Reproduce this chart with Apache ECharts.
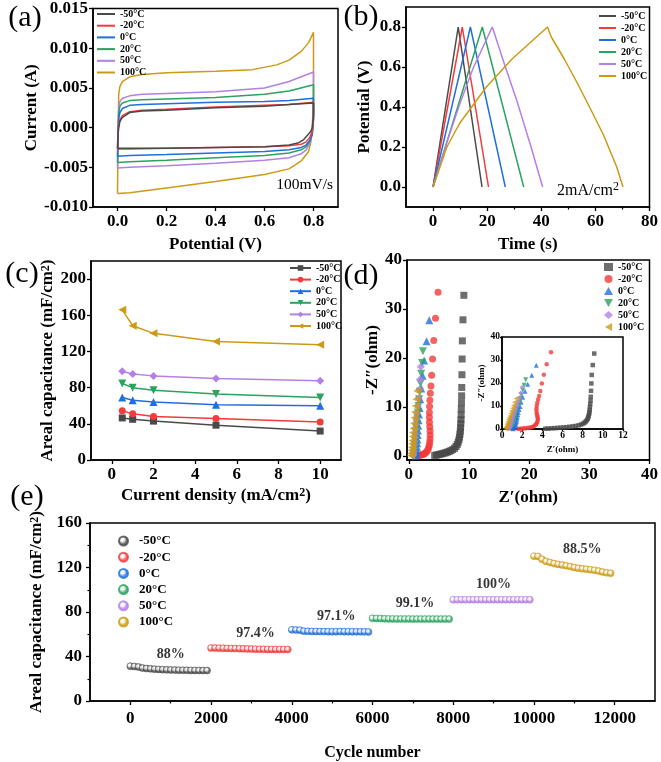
<!DOCTYPE html>
<html><head><meta charset="utf-8">
<script src="https://cdn.jsdelivr.net/npm/echarts@6/dist/echarts.min.js"></script>
<style>html,body{margin:0;padding:0;background:#fff}#c{width:661px;height:762px}</style>
</head><body><div id="c"></div>
<script>
// ---------- shared ----------
const temps = ['-50°C', '-20°C', '0°C', '20°C', '50°C', '100°C'];
const colors = ['#4a4a4a', '#f23b3b', '#1f6fe0', '#2aa35e', '#b47fe6', '#cc9a14'];

// ---------- (a) CV curves at 100 mV/s: [potential V, current A] ----------
const cvM50 = [[0,-0.0026],[0.002,-0.001],[0.005,0.0],[0.01,0.0008],[0.02,0.0013],[0.05,0.0019],[0.1,0.0021],[0.2,0.0022],[0.4,0.0025],[0.6,0.0027],[0.7,0.0029],[0.8,0.0031],[0.8,0.0015],[0.795,0.0],[0.79,-0.0004],[0.78,-0.0008],[0.76,-0.0015],[0.74,-0.0019],[0.7,-0.0022],[0.6,-0.0024],[0.4,-0.0025],[0.2,-0.0026],[0.05,-0.0026],[0,-0.0026]];
const cvM20 = [[0,-0.0027],[0.002,-0.0005],[0.005,0.0004],[0.01,0.0010],[0.02,0.0015],[0.05,0.0020],[0.1,0.0022],[0.2,0.0023],[0.4,0.0026],[0.6,0.0028],[0.7,0.0029],[0.8,0.0032],[0.8,0.001],[0.795,-0.0005],[0.785,-0.0012],[0.77,-0.0018],[0.75,-0.0021],[0.7,-0.0023],[0.6,-0.0024],[0.4,-0.0025],[0.2,-0.0026],[0.05,-0.0027],[0,-0.0027]];
const cv0 = [[0,-0.0036],[0.002,-0.001],[0.005,0.0012],[0.01,0.0019],[0.02,0.0024],[0.05,0.0028],[0.1,0.0029],[0.2,0.0030],[0.4,0.0032],[0.6,0.0033],[0.7,0.0034],[0.8,0.0037],[0.8,0.001],[0.795,-0.0008],[0.785,-0.0016],[0.77,-0.0022],[0.75,-0.0025],[0.7,-0.0028],[0.6,-0.0030],[0.4,-0.0032],[0.2,-0.0034],[0.05,-0.0035],[0,-0.0036]];
const cv20 = [[0,-0.0044],[0.002,-0.001],[0.005,0.0018],[0.01,0.0027],[0.02,0.0031],[0.05,0.0034],[0.1,0.0035],[0.2,0.0036],[0.4,0.0038],[0.6,0.0042],[0.7,0.0046],[0.8,0.0054],[0.8,0.0015],[0.795,-0.0008],[0.785,-0.0017],[0.77,-0.0024],[0.75,-0.0028],[0.7,-0.0032],[0.6,-0.0035],[0.4,-0.0038],[0.2,-0.0041],[0.05,-0.0043],[0,-0.0044]];
const cv50 = [[0,-0.0051],[0.002,-0.001],[0.005,0.0025],[0.01,0.0033],[0.02,0.0037],[0.05,0.0040],[0.1,0.0042],[0.2,0.0043],[0.4,0.0045],[0.6,0.0050],[0.7,0.0058],[0.8,0.0070],[0.8,0.002],[0.795,-0.0008],[0.785,-0.0020],[0.77,-0.0028],[0.75,-0.0033],[0.7,-0.0038],[0.6,-0.0041],[0.4,-0.0045],[0.2,-0.0048],[0.05,-0.0050],[0,-0.0051]];
const cv100 = [[0,-0.0083],[0.002,-0.002],[0.005,0.0042],[0.01,0.0052],[0.02,0.0058],[0.05,0.0064],[0.1,0.0067],[0.2,0.0069],[0.4,0.0071],[0.55,0.0073],[0.65,0.0079],[0.7,0.0085],[0.75,0.0096],[0.78,0.0107],[0.8,0.0120],[0.8,0.004],[0.795,0.0],[0.79,-0.0017],[0.78,-0.0030],[0.75,-0.0042],[0.7,-0.0052],[0.6,-0.0059],[0.4,-0.0068],[0.2,-0.0076],[0.05,-0.0082],[0,-0.0083]];
const cvData = [cvM50, cvM20, cv0, cv20, cv50, cv100];

// ---------- (b) GCD at 2 mA/cm2: [time s, potential V] ----------
const gcdM50 = [[0,0],[9.3,0.8],[18.1,0]];
const gcdM20 = [[0,0],[10.8,0.8],[20.5,0]];
const gcd0 = [[0,0],[13.8,0.8],[26.7,0]];
const gcd20 = [[0,0],[18.2,0.8],[33.5,0]];
const gcd50 = [[0,0],[5,0.22],[10,0.42],[15,0.6],[21.9,0.8],[26,0.63],[31,0.43],[36,0.21],[40.5,0]];
const gcd100 = [[0,0],[5.1,0.2],[9.9,0.32],[19.7,0.5],[29.2,0.64],[34.1,0.7],[42.3,0.8],[43.7,0.75],[48.5,0.64],[53.3,0.52],[58.2,0.39],[63,0.26],[67.9,0.1],[70.2,0]];
const gcdData = [gcdM50, gcdM20, gcd0, gcd20, gcd50, gcd100];

// ---------- (c) areal capacitance vs current density ----------
const currentDensity = [0.5, 1, 2, 5, 10];
const capM50 = [46.5, 45, 43, 38.5, 32];
const capM20 = [54.5, 51, 48, 46, 42];
const cap0 = [69, 66, 64, 61, 60];
const cap20 = [84.5, 80, 77, 73, 69];
const cap50 = [98, 95, 93, 90, 87.5];
const cap100 = [166, 148.5, 140, 131, 127.5];
const capData = [capM50, capM20, cap0, cap20, cap50, cap100];

// ---------- (d) Nyquist: [Z' ohm, -Z'' ohm] ----------
const eisM50 = [[4.3,0.15],[4.6,0.2],[4.9,0.3],[5.2,0.38],[5.5,0.47],[5.8,0.57],[6.1,0.68],[6.4,0.8],[6.7,0.95],[7.0,1.12],[7.3,1.33],[7.6,1.6],[7.85,1.95],[8.05,2.35],[8.2,2.8],[8.32,3.3],[8.42,3.85],[8.5,4.45],[8.56,5.1],[8.6,5.8],[8.64,6.6],[8.67,7.4],[8.7,8.4],[8.72,9.6],[8.75,10.9],[8.78,12.3],[8.8,14.0],[8.83,16.6],[8.86,19.8],[8.9,23.5],[9.0,27.8],[9.15,32.8]];
const eisM20 = [[1.6,0.1],[1.8,0.15],[2.0,0.2],[2.2,0.28],[2.4,0.38],[2.6,0.5],[2.8,0.68],[3.0,0.92],[3.15,1.25],[3.3,1.7],[3.4,2.2],[3.48,2.8],[3.53,3.5],[3.55,4.3],[3.53,5.1],[3.48,6.0],[3.44,6.9],[3.42,7.9],[3.42,8.9],[3.45,10.1],[3.5,11.4],[3.58,12.8],[3.68,14.3],[3.8,16.5],[3.95,19.8],[4.15,23.6],[4.43,28.1],[4.86,33.4]];
const eis0 = [[1.1,0.1],[1.18,0.4],[1.25,0.8],[1.3,1.3],[1.35,1.9],[1.4,2.6],[1.45,3.4],[1.48,4.3],[1.52,5.2],[1.57,6.2],[1.62,7.3],[1.7,8.5],[1.8,9.8],[1.9,11.6],[2.06,13.8],[2.29,16.4],[2.55,19.5],[2.95,23.4],[3.4,27.7]];
const eis20 = [[0.85,0.1],[0.92,0.5],[0.98,1.0],[1.03,1.6],[1.08,2.3],[1.13,3.0],[1.18,3.8],[1.23,4.7],[1.28,5.6],[1.34,6.6],[1.42,7.7],[1.52,8.9],[1.62,10.2],[1.72,11.6],[1.82,13.1],[1.93,14.8],[2.06,16.8],[2.2,19.0],[2.35,21.4]];
const eis50 = [[0.7,0.1],[0.75,0.5],[0.8,1.0],[0.85,1.6],[0.9,2.3],[0.95,3.0],[1.0,3.8],[1.05,4.6],[1.1,5.5],[1.18,6.5],[1.27,7.6],[1.37,8.8],[1.5,10.2],[1.62,11.8],[1.75,13.6],[1.86,15.6],[2.0,18.2]];
const eis100 = [[0.35,0.1],[0.4,0.6],[0.45,1.2],[0.5,1.8],[0.55,2.5],[0.6,3.2],[0.65,4.0],[0.7,4.8],[0.78,5.7],[0.86,6.7],[0.95,7.8],[1.04,9.0],[1.14,10.2],[1.25,11.6],[1.4,13.3]];
const eisData = [eisM50, eisM20, eis0, eis20, eis50, eis100];

// ---------- (e) cycling ----------
const cycleOffsets = [0,100,200,300,400,500,600,700,800,900,1000,1100,1200,1300,1400,1500,1600,1700,1800,1900];
const segmentStart = [0, 2000, 4000, 6000, 8000, 10000];
const cycM50 = [31.3,31.0,30.6,29.6,29.2,28.9,28.6,28.4,28.2,28.0,27.9,27.8,27.7,27.6,27.6,27.5,27.5,27.4,27.4,27.4];
const cycM20 = [47.6,47.6,47.5,47.4,47.3,47.2,47.1,47.0,46.9,46.8,46.7,46.6,46.5,46.5,46.4,46.4,46.3,46.3,46.3,46.3];
const cyc0 = [64.0,63.9,63.7,62.8,62.6,62.5,62.5,62.4,62.4,62.3,62.2,62.3,62.4,62.3,62.3,62.2,62.2,62.2,62.2,62.1];
const cyc20 = [74.3,74.2,74.1,73.9,73.8,73.8,73.7,73.7,73.7,73.7,73.6,73.6,73.6,73.6,73.6,73.6,73.6,73.6,73.6,73.6];
const cyc50 = [91.0,91.0,91.0,91.0,91.0,91.0,91.0,91.0,91.0,91.0,91.0,91.0,91.0,91.0,91.0,91.0,91.0,91.0,91.0,91.0];
const cyc100 = [130.2,130.0,127.5,125.5,124.5,123.5,122.8,122.2,121.5,120.8,120.0,119.3,118.8,118.5,118.0,117.5,116.8,116.0,115.2,114.8];
const cycData = [cycM50, cycM20, cyc0, cyc20, cyc50, cyc100];
const retentionLabels = ['88%', '97.4%', '97.1%', '99.1%', '100%', '88.5%'];
const retentionX = [1000, 3100, 5100, 7050, 9000, 11200];
const retentionY = [42, 61, 76, 87.6, 104.6, 136];

// ---------- chart ----------
const FONT = '"Liberation Serif", "Times New Roman", serif';
const TRI_DOWN = 'path://M0,0 L10,0 L5,9 Z';
const TRI_LEFT = 'path://M9,0 L9,10 L0,5 Z';
const symbols = ['rect', 'circle', 'triangle', TRI_DOWN, 'diamond', TRI_LEFT];

function mkAxis(o) {
  const nfs = o.nfs || 17;
  const a = {
    type: 'value', gridIndex: o.g, min: o.min, max: o.max, position: o.pos,
    axisLine: { show: true, onZero: false, lineStyle: { color: '#000', width: 1.5 } },
    axisTick: { show: true, inside: false, length: o.tl || 4, lineStyle: { color: '#000', width: 1.3 } },
    axisLabel: { show: true, fontFamily: FONT, fontWeight: 'bold', fontSize: o.fs || 17,
      color: '#000', margin: o.margin || 5, formatter: o.fmt },
    splitLine: { show: false },
    name: o.name || '', nameLocation: 'middle', nameGap: o.gap || 30,
    nameTextStyle: { fontFamily: FONT, fontWeight: 'bold', fontSize: nfs, color: '#000',
      rich: { s: { fontFamily: FONT, fontWeight: 'bold', fontSize: Math.round(nfs * 0.72),
        lineHeight: Math.round(nfs * 0.72), verticalAlign: 'top' } } }
  };
  if (o.ticks) { a.axisTick.customValues = o.ticks; a.axisLabel.customValues = o.ticks; }
  if (o.interval) a.interval = o.interval;
  if (o.minor) a.minorTick = { show: true, splitNumber: 2, length: 2.5, lineStyle: { color: '#000', width: 1.2 } };
  return a;
}
function minorAxis(g, min, max, vals) {
  return { type: 'value', gridIndex: g, min: min, max: max, position: 'bottom',
    axisLine: { show: false, onZero: false }, axisLabel: { show: false }, splitLine: { show: false },
    axisTick: { show: true, length: 2.5, customValues: vals, lineStyle: { color: '#000', width: 1.2 } } };
}
const f1 = v => v.toFixed(1), f3 = v => v.toFixed(3), f0 = v => String(Math.round(v));

const gridStyle = { show: true, borderColor: '#000', borderWidth: 1.5, containLabel: false };
const grids = [
  Object.assign({ left: 93, top: 7, width: 245, height: 200 }, gridStyle),
  Object.assign({ left: 406, top: 7, width: 245, height: 200 }, gridStyle),
  Object.assign({ left: 91, top: 261, width: 250, height: 199 }, gridStyle),
  Object.assign({ left: 407, top: 260, width: 243, height: 200 }, gridStyle),
  Object.assign({ left: 502, top: 337, width: 121, height: 92, backgroundColor: '#fff' }, gridStyle),
  Object.assign({ left: 90, top: 523, width: 565, height: 179 }, gridStyle)
];

const xAxes = [
  mkAxis({ g: 0, min: -0.1, max: 0.9, ticks: [0, 0.2, 0.4, 0.6, 0.8], fmt: f1, name: 'Potential (V)', gap: 29, pos: 'bottom', margin: 6 }),
  mkAxis({ g: 1, min: -10, max: 80, ticks: [0, 20, 40, 60, 80], fmt: f0, name: 'Time (s)', gap: 29, pos: 'bottom', margin: 6 }),
  minorAxis(1, -10, 80, [10, 30, 50, 70]),
  mkAxis({ g: 2, min: -1, max: 11, ticks: [0, 2, 4, 6, 8, 10], fmt: f0, name: 'Current density (mA/cm{s|2})', gap: 27, pos: 'bottom', margin: 6 }),
  mkAxis({ g: 3, min: -0.3, max: 40, ticks: [0, 10, 20, 30, 40], fmt: f0, name: 'Z\u2032(ohm)', gap: 29, pos: 'bottom', margin: 6 }),
  mkAxis({ g: 4, min: 0, max: 12, ticks: [0, 2, 4, 6, 8, 10, 12], fmt: f0, name: 'Z\u2032(ohm)', gap: 16, fs: 9.5, nfs: 9, tl: 2, margin: 2, pos: 'bottom' }),
  mkAxis({ g: 5, min: -1000, max: 13000, ticks: [0, 2000, 4000, 6000, 8000, 10000, 12000], fmt: f0, name: 'Cycle number', gap: 44, pos: 'bottom', nfs: 16, margin: 9 }),
  minorAxis(5, -1000, 13000, [1000, 3000, 5000, 7000, 9000, 11000])
];
const yAxes = [
  mkAxis({ g: 0, min: -0.01, max: 0.015, ticks: [-0.01, -0.005, 0, 0.005, 0.01, 0.015], fmt: f3, name: 'Current (A)', gap: 52, pos: 'left' }),
  mkAxis({ g: 1, min: -0.1, max: 0.9, ticks: [0, 0.2, 0.4, 0.6, 0.8], fmt: f1, name: 'Potential (V)', gap: 33, pos: 'left' }),
  mkAxis({ g: 2, min: 0, max: 220, ticks: [0, 40, 80, 120, 160, 200], fmt: f0, name: 'Areal capacitance (mF/cm{s|2})', gap: 33, pos: 'left' }),
  mkAxis({ g: 3, min: -0.8, max: 40, ticks: [0, 10, 20, 30, 40], fmt: f0, name: '-Z\u2033(ohm)', gap: 26, pos: 'left' }),
  mkAxis({ g: 4, min: 0, max: 40, ticks: [0, 10, 20, 30, 40], fmt: f0, name: '-Z\u2033(ohm)', gap: 15, fs: 9.5, nfs: 9, tl: 2, margin: 2, pos: 'left' }),
  mkAxis({ g: 5, min: 0, max: 160, interval: 40, minor: true, fmt: f0, name: 'Areal capacitance (mF/cm{s|2})', gap: 38, pos: 'left', nfs: 17, margin: 8 })
];

const series = [];
temps.forEach((t, i) => {
  series.push({ name: 'a' + t, type: 'line', xAxisIndex: 0, yAxisIndex: 0, data: cvData[i],
    showSymbol: false, symbol: 'none', lineStyle: { width: 1.5, color: colors[i] }, itemStyle: { color: colors[i] }, z: 2 + (5 - i) });
});
temps.forEach((t, i) => {
  series.push({ name: 'b' + t, type: 'line', xAxisIndex: 1, yAxisIndex: 1, data: gcdData[i],
    showSymbol: false, symbol: 'none', lineStyle: { width: 1.5, color: colors[i] }, itemStyle: { color: colors[i] } });
});
temps.forEach((t, i) => {
  series.push({ name: 'c' + t, type: 'line', xAxisIndex: 3, yAxisIndex: 2,
    data: currentDensity.map((x, k) => [x, capData[i][k]]),
    symbol: symbols[i], symbolSize: i >= 2 ? 8 : 7,
    lineStyle: { width: 1.5, color: colors[i] }, itemStyle: { color: colors[i] } });
});
temps.forEach((t, i) => {
  series.push({ name: 'd' + t, type: 'scatter', xAxisIndex: 4, yAxisIndex: 3, data: eisData[i],
    symbol: symbols[i], symbolSize: i >= 2 ? 8 : 7, itemStyle: { color: colors[i] }, z: 2 + i });
  series.push({ name: 'i' + t, type: 'scatter', xAxisIndex: 5, yAxisIndex: 4, data: eisData[i],
    symbol: symbols[i], symbolSize: i >= 2 ? 5 : 4.5, itemStyle: { color: colors[i] }, z: 5 });
});
function ball(c) {
  return { type: 'radial', x: 0.4, y: 0.38, r: 0.65,
    colorStops: [{ offset: 0, color: '#ffffff' }, { offset: 0.22, color: '#ffffff' }, { offset: 0.6, color: c }, { offset: 1, color: c }] };
}
temps.forEach((t, i) => {
  series.push({ name: 'e' + t, type: 'scatter', xAxisIndex: 6, yAxisIndex: 5,
    data: cycleOffsets.map((o, k) => [segmentStart[i] + o, cycData[i][k]]),
    symbol: 'circle', symbolSize: 7, itemStyle: { color: ball(colors[i]), borderColor: colors[i], borderWidth: 0.6 } });
});
series.push({ name: 'retention', type: 'scatter', xAxisIndex: 6, yAxisIndex: 5, symbolSize: 0, silent: true,
  data: retentionLabels.map((s, k) => ({ name: s, value: [retentionX[k], retentionY[k]] })),
  label: { show: true, position: 'inside', formatter: '{b}', fontFamily: FONT, fontWeight: 'bold', fontSize: 14, color: '#000' } });

const legText = (fs, lh, pad) => ({ fontFamily: FONT, fontWeight: 'bold', fontSize: fs, lineHeight: lh, color: '#000', padding: pad || 0 });
const legends = [
  { data: temps.map(t => 'a' + t), left: 97, top: 9, orient: 'vertical', icon: 'rect', itemWidth: 18, itemHeight: 2, itemGap: 1.7, textStyle: legText(10, 10) },
  { data: temps.map(t => 'b' + t), left: 599, top: 11, orient: 'vertical', icon: 'rect', itemWidth: 17, itemHeight: 2, itemGap: 2, textStyle: legText(10, 10) },
  { data: temps.map(t => 'c' + t), left: 289, top: 263, orient: 'vertical', itemWidth: 21, itemHeight: 7, itemGap: 1.6, textStyle: legText(10, 10) },
  { data: temps.map(t => 'd' + t), left: 604, top: 262, orient: 'vertical', itemWidth: 9, itemHeight: 8, itemGap: 2, textStyle: legText(10, 10) },
  { data: temps.map(t => 'e' + t), left: 118, top: 534, orient: 'vertical', itemWidth: 9, itemHeight: 9, itemGap: 2.2, textStyle: legText(13, 14, [0, 0, 0, 6]) }
].map(l => Object.assign(l, { formatter: n => n.slice(1), selectedMode: false, padding: 0 }));

const panelText = (txt, x, y, size) => ({ type: 'text', x: x, y: y, z: 100,
  style: { text: txt, fontFamily: FONT, fontSize: size, fill: '#000', align: 'center', verticalAlign: 'middle' } });

const option = {
  animation: false,
  backgroundColor: '#fff',
  grid: grids,
  xAxis: xAxes,
  yAxis: yAxes,
  legend: legends,
  series: series,
  graphic: [
    panelText('(a)', 25, 18, 30),
    panelText('(b)', 361, 17, 30),
    panelText('(c)', 22, 274, 30),
    panelText('(d)', 361, 276, 30),
    panelText('(e)', 27, 497, 30),
    { type: 'text', x: 333, y: 185, z: 100, style: { text: '100mV/s', fontFamily: FONT, fontSize: 15.5, fill: '#000', align: 'right', verticalAlign: 'middle' } },
    { type: 'text', x: 619, y: 190, z: 100, style: { text: '{a|2mA/cm}{s|2}', align: 'right', verticalAlign: 'middle', fill: '#000',
      rich: { a: { fontFamily: FONT, fontSize: 16, lineHeight: 18, verticalAlign: 'bottom' }, s: { fontFamily: FONT, fontSize: 12, lineHeight: 12, verticalAlign: 'top' } } } }
  ]
};
const chart = echarts.init(document.getElementById('c'), null, { renderer: 'canvas' });
chart.setOption(option);
</script>
</body></html>
